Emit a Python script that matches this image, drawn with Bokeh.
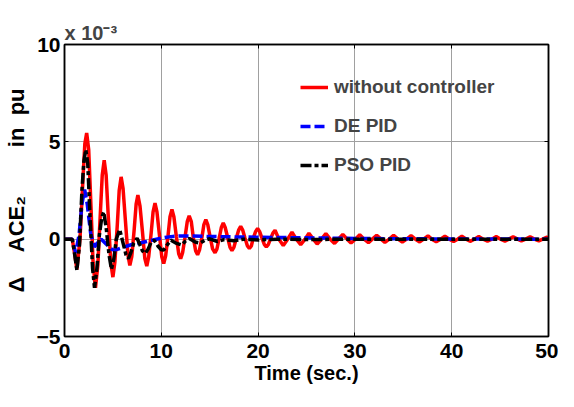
from bokeh.plotting import figure
from bokeh.models import (Range1d, FixedTicker, LinearAxis, Legend, LegendItem,
                          CustomJSTickFormatter, Title)
from bokeh.embed import file_html
from bokeh.resources import INLINE

# ---------------- data (values in units of 1e-3 pu) ----------------
x_ticks = [0, 10, 20, 30, 40, 50]
y_ticks = [-5, 0, 5, 10]

t_red = [0, 0.8, 1.0, 1.28, 1.6, 1.9, 2.1, 2.29, 2.5, 2.75,
         2.95, 3.2, 3.45, 3.65, 3.9, 4.1, 4.3, 4.55, 4.78, 5.0,
         5.2, 5.45, 5.65, 5.85, 6.05, 6.3, 6.55, 6.75, 6.95, 7.2,
         7.4, 7.58, 7.8, 8.05, 8.3, 8.5, 8.7, 8.95, 9.15, 9.35,
         9.55, 9.8, 10.05, 10.25, 10.45, 10.7, 10.9, 11.1, 11.3, 11.55,
         11.8, 12.0, 12.2, 12.45, 12.68, 12.88, 13.1, 13.3, 13.55, 13.75,
         13.95, 14.2, 14.4, 14.6, 14.8, 15.05, 15.3, 15.55, 15.75, 16.0,
         16.2, 16.4, 16.6, 16.85, 17.1, 17.3, 17.5, 17.75, 18.0, 18.2,
         18.4, 18.65, 18.9, 19.1, 19.3, 19.5, 19.75, 19.95, 20.15, 20.4,
         20.65, 20.85, 21.05, 21.3, 21.55, 21.75,
         22.15, 22.6, 23.05, 23.5, 23.95, 24.4, 24.85, 25.25,
         25.7, 26.1, 26.55, 27.0, 27.45, 27.9, 28.3, 28.75,
         29.2, 29.6, 30.05, 30.5, 30.95, 31.4, 31.8, 32.25,
         32.7, 33.1, 33.55, 34.0, 34.45, 34.9, 35.35, 35.8,
         36.25, 36.7, 37.1, 37.55, 37.95, 38.4, 38.85, 39.3,
         39.75, 40.2, 40.6, 41.05, 41.5, 41.9, 42.35, 42.8,
         43.25, 43.7, 44.15, 44.6, 45.05, 45.5, 45.9, 46.35,
         46.8, 47.2, 47.65, 48.1, 48.55, 49.0, 49.4, 49.85, 50.0]
y_red = [0, 0, -0.6, -1.55, 0.0, 3.0, 4.9, 5.45, 4.6, 1.5,
         -1.2, -2.5, -1.3, 0.8, 3.3, 4.05, 3.3, 0.9, -1.2, -1.95,
         -1.2, 0.7, 2.5, 3.2, 2.6, 0.9, -0.8, -1.35, -0.9, 0.5,
         1.8, 2.26, 1.7, 0.4, -1.0, -1.38, -0.9, 0.3, 1.4, 1.85,
         1.4, 0.25, -0.9, -1.25, -0.85, 0.2, 1.15, 1.52, 1.15, 0.15,
         -0.75, -1.0, -0.7, 0.1, 0.9, 1.2, 0.9, 0.1, -0.6, -0.8,
         -0.55, 0.1, 0.75, 1.0, 0.75, 0.1, -0.5, -0.7, -0.5, 0.1,
         0.6, 0.83, 0.6, 0.1, -0.42, -0.58, -0.42, 0.05, 0.48, 0.66,
         0.48, 0.05, -0.35, -0.48, -0.35, 0.05, 0.4, 0.55, 0.4, 0.05,
         -0.28, -0.4, -0.28, 0.04, 0.33, 0.46,
         0, -0.33, 0, 0.36, 0, -0.28, 0, 0.30,
         0, -0.25, 0, 0.28, 0, -0.22, 0, 0.25,
         0, -0.20, 0, 0.23, 0, -0.18, 0, 0.20,
         0, -0.17, 0, 0.20, 0, -0.15, 0, 0.18,
         0, -0.14, 0, 0.17, 0, -0.13, 0, 0.16,
         0, -0.12, 0, 0.15, 0, -0.11, 0, 0.14,
         0, -0.10, 0, 0.13, 0, -0.10, 0, 0.12,
         0, -0.09, 0, 0.12, 0, -0.09, 0, 0.11, 0.05]

t_de = [0, 0.8, 1.15, 1.5, 1.8, 2.08, 2.35, 2.7, 3.1, 3.45,
        3.8, 4.3, 4.8, 5.15, 5.6, 6.2, 6.8, 7.5, 8.5, 9.5,
        10.2, 11.0, 11.8, 13.0, 15.0, 17.0, 20.0, 23.0, 26.0, 30.0,
        35.0, 40.0, 50.0]
y_de = [0, 0, -0.7, 0.2, 1.8, 2.55, 1.8, 0.3, -0.4, -0.15,
        0.0, -0.25, -0.5, -0.58, -0.5, -0.4, -0.3, -0.22, -0.12, 0.0,
        0.07, 0.13, 0.16, 0.16, 0.14, 0.12, 0.1, 0.08, 0.06, 0.04,
        0.02, 0.01, 0.0]

t_pso = [0, 0.8, 1.0, 1.28, 1.55, 1.8, 2.0, 2.2, 2.4, 2.65,
         2.9, 3.1, 3.35, 3.6, 3.85, 4.05, 4.3, 4.6, 4.85, 5.1,
         5.35, 5.7, 6.05, 6.35, 6.6, 6.85, 7.15, 7.5, 7.8, 8.05,
         8.35, 8.65, 8.95, 9.25, 9.65, 10.0, 10.25, 10.6, 11.0, 11.5,
         12.1, 12.5, 12.9, 13.5, 14.0, 14.5, 15.0, 15.8, 16.5, 17.5,
         18.5, 20.0, 22.0, 25.0, 30.0, 50.0]
y_pso = [0, 0, -0.6, -1.6, -0.3, 2.5, 4.0, 4.6, 3.9, 1.0,
         -1.5, -2.5, -1.5, 0.2, 1.1, 1.4, 0.6, -0.8, -1.55, -1.0,
         0.0, 0.5, -0.2, -0.8, -1.0, -0.7, -0.2, 0.05, -0.3, -0.6,
         -0.73, -0.5, -0.15, -0.05, -0.35, -0.55, -0.56, -0.3, -0.05, -0.2,
         -0.3, -0.1, 0.03, -0.15, -0.2, -0.05, 0.02, -0.12, -0.02, -0.08,
         0.0, -0.04, 0.0, -0.02, 0.0, 0.0]

labels = ["without controller", "DE PID", "PSO PID"]

# ---------------- figure ----------------
FONT = "Liberation Sans"
NB = "\u00a0"

p = figure(width=558, height=391, output_backend="svg", toolbar_location=None,
           x_range=Range1d(0, 50), y_range=Range1d(-5, 10),
           min_border_left=57, min_border_right=10, min_border_top=44,
           min_border_bottom=55)
p.outline_line_color = "black"
p.outline_line_width = 1.5
p.background_fill_color = "white"
p.border_fill_color = "white"

r_red = p.line(t_red, y_red, line_color="#ff0000", line_width=3.5)
r_de = p.line(t_de, y_de, line_color="#0000ff", line_width=3.5, line_dash="10 4")
r_pso = p.line(t_pso, y_pso, line_color="black", line_width=3.5, line_dash="11 3 4 3")

xt = FixedTicker(ticks=x_ticks)
yt = FixedTicker(ticks=y_ticks)

for ax in (p.xaxis[0], p.yaxis[0]):
    ax.axis_line_width = 1.5
    ax.major_tick_in = 4
    ax.major_tick_out = 0
    ax.minor_tick_line_color = None
    ax.major_label_text_font = FONT
    ax.major_label_text_font_style = "bold"
    ax.major_label_text_font_size = "21px"
    ax.major_label_text_color = "black"
    ax.axis_label_text_color = "black"

p.xaxis[0].ticker = xt
p.yaxis[0].ticker = yt
p.xaxis[0].major_label_standoff = 7
p.yaxis[0].major_label_standoff = 4
p.xaxis[0].axis_label = "Time (sec.)"
p.xaxis[0].axis_label_text_font = FONT
p.xaxis[0].axis_label_text_font_style = "bold"
p.xaxis[0].axis_label_text_font_size = "20px"
p.xaxis[0].axis_label_standoff = 1

p.yaxis[0].axis_label = ("\u0394" + NB * 4 + "ACE\u2082" + NB * 8 + "in" + NB * 2 + "pu")
p.yaxis[0].axis_label_text_font = FONT
p.yaxis[0].axis_label_text_font_style = "bold"
p.yaxis[0].axis_label_text_font_size = "22px"
p.yaxis[0].axis_label_standoff = 5

blank = CustomJSTickFormatter(code="return ''")
top = LinearAxis(ticker=FixedTicker(ticks=x_ticks), major_tick_in=4, major_tick_out=0,
                 minor_tick_line_color=None, formatter=blank,
                 major_label_text_font_size="0px", axis_label_standoff=0,
                 major_label_standoff=0, axis_line_width=1.5)
right = LinearAxis(ticker=FixedTicker(ticks=y_ticks), major_tick_in=4, major_tick_out=0,
                   minor_tick_line_color=None, formatter=blank,
                   major_label_text_font_size="0px", axis_label_standoff=0,
                   major_label_standoff=0, axis_line_width=1.5)
p.add_layout(top, "above")
p.add_layout(right, "right")

p.xgrid.ticker = xt
p.ygrid.ticker = yt
p.xgrid.grid_line_color = "#a0a0a0"
p.ygrid.grid_line_color = "#a0a0a0"
p.xgrid.grid_line_width = 1
p.ygrid.grid_line_width = 1

legend = Legend(items=[LegendItem(label=labels[0], renderers=[r_red]),
                       LegendItem(label=labels[1], renderers=[r_de]),
                       LegendItem(label=labels[2], renderers=[r_pso])],
                location=(236, 160), background_fill_alpha=0, border_line_alpha=0,
                label_text_font=FONT, label_text_font_style="bold",
                label_text_font_size="19px", glyph_width=28, glyph_height=22,
                label_height=22, label_standoff=6, spacing=17, padding=0, margin=0)
p.add_layout(legend)

p.title = Title(text="x 10\u207b\u00b3", align="left", text_font=FONT,
                text_font_style="bold", text_font_size="20px", standoff=2)

open("out.html", "w").write(file_html(p, INLINE))
